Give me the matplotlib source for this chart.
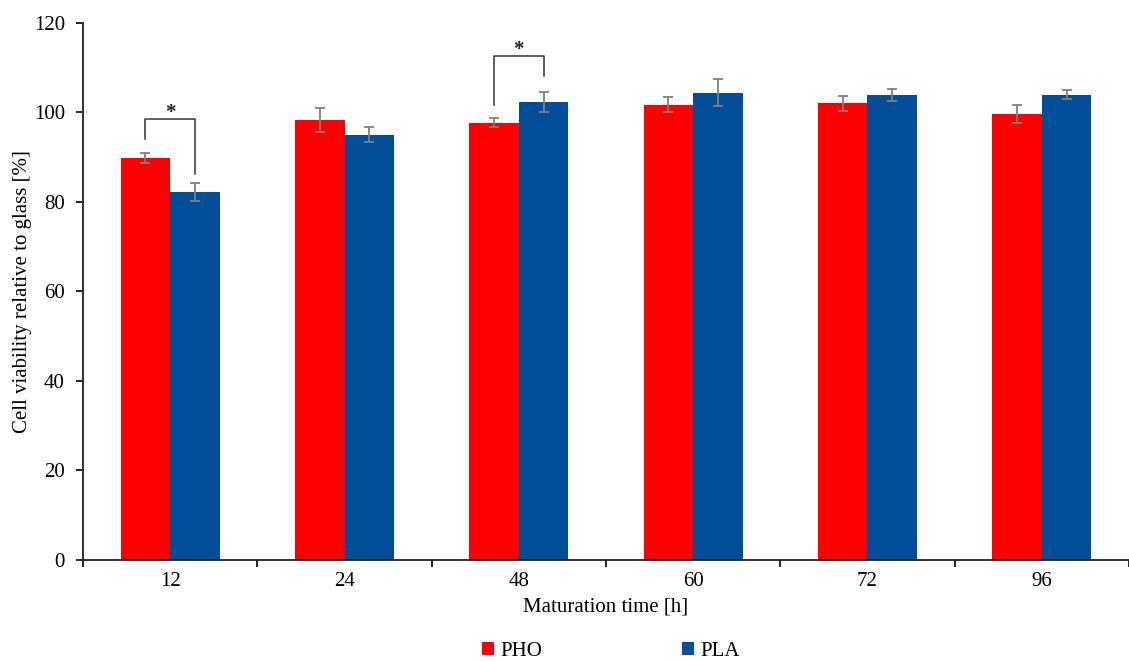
import matplotlib
matplotlib.use("Agg")
import matplotlib.pyplot as plt
import numpy as np

categories = ["12", "24", "48", "60", "72", "96"]
pho = [89.8, 98.3, 97.7, 101.7, 102.0, 99.6]
pho_err = [1.1, 2.7, 1.1, 1.7, 1.7, 2.1]
pla = [82.2, 95.0, 102.3, 104.4, 103.9, 103.9]
pla_err = [2.0, 1.7, 2.3, 3.0, 1.4, 1.0]
# significance brackets: (category index, bar height, left leg bottom, right leg bottom)
brackets = [(0, 98.4, 94.0, 86.2), (2, 112.6, 101.7, 108.2)]

plt.rcParams['font.family'] = ['Liberation Serif', 'DejaVu Serif']

fig = plt.figure(figsize=(11.29, 6.62), dpi=100)
ax = fig.add_axes([83/1129, 102/662, 1 - 83/1129, (560-22.7)/662])

x = np.arange(len(categories))
w = 0.284
red = "#FF0000"
blue = "#024E98"
ekw = dict(ecolor="#7f7f7f", elinewidth=1.3, capsize=3.5, capthick=1.3)
ax.bar(x - w/2, pho, w, color=red, label="PHO", yerr=pho_err, error_kw=ekw, zorder=2)
ax.bar(x + w/2, pla, w, color=blue, label="PLA", yerr=pla_err, error_kw=ekw, zorder=2)

for i, h, l, r in brackets:
    xl, xr = i - w/2, i + w/2
    ax.plot([xl, xl, xr, xr], [l, h, h, r], color="#333333", lw=1.1, zorder=3)
    ax.text(i, h - 0.9, "*", ha="center", va="bottom", fontsize=15,
            fontweight="bold", color="#222222")

ax.set_xlim(-0.5, -0.5 + 1046/176)
ax.set_ylim(0, 120)
ax.set_yticks(np.arange(0, 121, 20))
ax.set_xticks(x)
ax.set_xticklabels(categories)
ax.set_xticks(np.arange(-0.5, len(categories)), minor=True)
ax.tick_params(axis="x", which="major", length=0, labelsize=15, pad=9)
ax.tick_params(axis="x", which="minor", length=5, width=1.2, direction="out")
ax.tick_params(axis="y", length=5, width=1.2, direction="out", labelsize=15, pad=8)
for s in ["top", "right"]:
    ax.spines[s].set_visible(False)
for s in ["left", "bottom"]:
    ax.spines[s].set_linewidth(1.3)
    ax.spines[s].set_color("#222222")

ax.set_xlabel("Maturation time [h]", fontsize=15, labelpad=4)
ax.set_ylabel("Cell viability relative to glass [%]", fontsize=15, labelpad=1)

leg = fig.legend(loc="center", bbox_to_anchor=(0.541, 0.016), ncol=2, frameon=False,
                 fontsize=15, handlelength=0.6, handleheight=0.6, handletextpad=0.3,
                 columnspacing=6.7)

fig.savefig("out.png", dpi=100)
